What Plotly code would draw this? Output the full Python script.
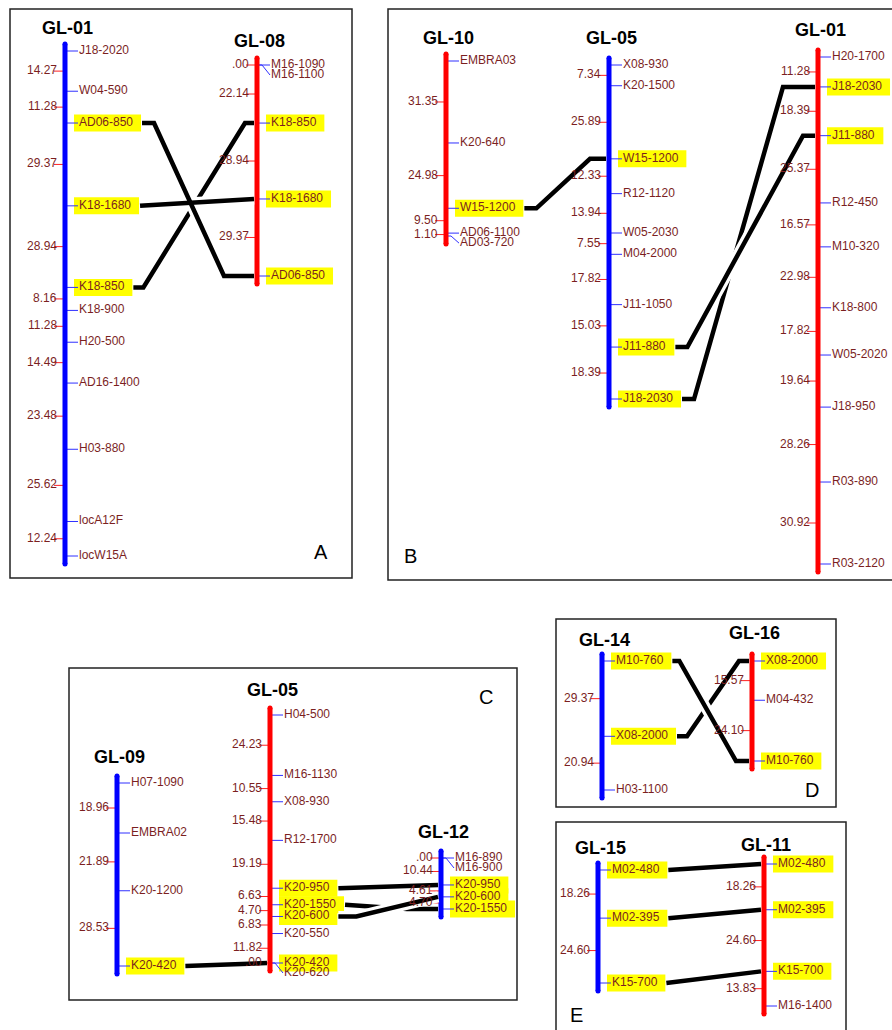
import plotly.graph_objects as go

# ---------------- data ----------------
A_GL01_markers = ["J18-2020", "W04-590", "AD06-850", "K18-1680", "K18-850", "K18-900",
                  "H20-500", "AD16-1400", "H03-880", "locA12F", "locW15A"]
A_GL01_dist = [14.27, 11.28, 29.37, 28.94, 8.16, 11.28, 14.49, 23.48, 25.62, 12.24]
A_GL08_markers = ["M16-1090", "M16-1100", "K18-850", "K18-1680", "AD06-850"]
A_GL08_dist = [0.00, 22.14, 28.94, 29.37]

B_GL10_markers = ["EMBRA03", "K20-640", "W15-1200", "AD06-1100", "AD03-720"]
B_GL10_dist = [31.35, 24.98, 9.50, 1.10]
B_GL05_markers = ["X08-930", "K20-1500", "W15-1200", "R12-1120", "W05-2030", "M04-2000",
                  "J11-1050", "J11-880", "J18-2030"]
B_GL05_dist = [7.34, 25.89, 12.33, 13.94, 7.55, 17.82, 15.03, 18.39]
B_GL01_markers = ["H20-1700", "J18-2030", "J11-880", "R12-450", "M10-320", "K18-800",
                  "W05-2020", "J18-950", "R03-890", "R03-2120"]
B_GL01_dist = [11.28, 18.39, 25.37, 16.57, 22.98, 17.82, 19.64, 28.26, 30.92]

C_GL09_markers = ["H07-1090", "EMBRA02", "K20-1200", "K20-420"]
C_GL09_dist = [18.96, 21.89, 28.53]
C_GL05_markers = ["H04-500", "M16-1130", "X08-930", "R12-1700", "K20-950", "K20-1550",
                  "K20-600", "K20-550", "K20-420", "K20-620"]
C_GL05_dist = [24.23, 10.55, 15.48, 19.19, 6.63, 4.70, 6.83, 11.82, 0.00]
C_GL12_markers = ["M16-890", "M16-900", "K20-950", "K20-600", "K20-1550"]
C_GL12_dist = [0.00, 10.44, 4.61, 4.70]

D_GL14_markers = ["M10-760", "X08-2000", "H03-1100"]
D_GL14_dist = [29.37, 20.94]
D_GL16_markers = ["X08-2000", "M04-432", "M10-760"]
D_GL16_dist = [15.57, 24.10]

E_GL15_markers = ["M02-480", "M02-395", "K15-700"]
E_GL15_dist = [18.26, 24.60]
E_GL11_markers = ["M02-480", "M02-395", "K15-700", "M16-1400"]
E_GL11_dist = [18.26, 24.60, 13.83]

# links: (left chromosome, marker, right chromosome, marker, layer)
links = [
    ("A1", "K18-850", "A2", "K18-850", 0),
    ("A1", "AD06-850", "A2", "AD06-850", 1),
    ("A1", "K18-1680", "A2", "K18-1680", 1),
    ("B1", "W15-1200", "B2", "W15-1200", 0),
    ("B2", "J18-2030", "B3", "J18-2030", 0),
    ("B2", "J11-880", "B3", "J11-880", 1),
    ("C1", "K20-420", "C2", "K20-420", 0),
    ("C2", "K20-950", "C3", "K20-950", 0),
    ("C2", "K20-1550", "C3", "K20-1550", 0),
    ("C2", "K20-600", "C3", "K20-600", 1),
    ("D1", "X08-2000", "D2", "X08-2000", 0),
    ("D1", "M10-760", "D2", "M10-760", 1),
    ("E1", "M02-480", "E2", "M02-480", 0),
    ("E1", "M02-395", "E2", "M02-395", 0),
    ("E1", "K15-700", "E2", "K15-700", 0),
]

# ---------------- layout / style ----------------
W, H = 892, 1030
BLUE, RED = "#0000ff", "#ff0000"
chrom = {
    "A1": dict(name="GL-01", m=A_GL01_markers, d=A_GL01_dist, c=BLUE, x=65, y0=51, y1=556, ty=28),
    "A2": dict(name="GL-08", m=A_GL08_markers, d=A_GL08_dist, c=RED, x=257, y0=65, y1=276, ty=41),
    "B1": dict(name="GL-10", m=B_GL10_markers, d=B_GL10_dist, c=RED, x=446, y0=61, y1=236, ty=38),
    "B2": dict(name="GL-05", m=B_GL05_markers, d=B_GL05_dist, c=BLUE, x=609, y0=65, y1=399, ty=38),
    "B3": dict(name="GL-01", m=B_GL01_markers, d=B_GL01_dist, c=RED, x=818, y0=57, y1=564, ty=30),
    "C1": dict(name="GL-09", m=C_GL09_markers, d=C_GL09_dist, c=BLUE, x=117, y0=783, y1=966, ty=757),
    "C2": dict(name="GL-05", m=C_GL05_markers, d=C_GL05_dist, c=RED, x=270, y0=715, y1=963, ty=690),
    "C3": dict(name="GL-12", m=C_GL12_markers, d=C_GL12_dist, c=BLUE, x=441, y0=858, y1=909, ty=832),
    "D1": dict(name="GL-14", m=D_GL14_markers, d=D_GL14_dist, c=BLUE, x=602, y0=661, y1=790, ty=640),
    "D2": dict(name="GL-16", m=D_GL16_markers, d=D_GL16_dist, c=RED, x=752, y0=661, y1=761, ty=633),
    "E1": dict(name="GL-15", m=E_GL15_markers, d=E_GL15_dist, c=BLUE, x=598, y0=870, y1=983, ty=848),
    "E2": dict(name="GL-11", m=E_GL11_markers, d=E_GL11_dist, c=RED, x=764, y0=864, y1=1006, ty=845),
}
# link bend stubs (left, right)
stubs = [(10, 9), (12, 30), (0, 0), (12, 16), (12, 32), (12, 12), (0, 0), (0, 0),
         (0, 31), (18, 0), (10, 10), (7, 13), (0, 0), (0, 0), (0, 0)]
frames = [(10, 9, 352, 578), (388, 9, 896, 580), (69, 668, 517, 1000),
          (556, 619, 836, 807), (556, 822, 846, 1034)]
panel_letters = [("A", 321, 552), ("B", 410, 556), ("C", 486, 697), ("D", 812, 790), ("E", 576, 1015)]

TXT = "#7b1f1f"
FONT = "Liberation Sans, Arial, sans-serif"
FS = 12
GAP = 10

AW = {'A': 667, 'B': 667, 'C': 722, 'D': 722, 'E': 667, 'H': 722, 'J': 500, 'K': 667, 'M': 833,
      'R': 722, 'W': 944, 'X': 667, 'l': 222, 'o': 556, 'c': 500, '-': 333}


def tw(s):
    return sum(AW.get(ch, 556) for ch in s) * FS / 1000.0


linked = set()
for a, ma, b, mb, _ in links:
    linked.add((a, ma))
    linked.add((b, mb))

# compute positions from cumulative distances
for k, c in chrom.items():
    cum = [0.0]
    for v in c["d"]:
        cum.append(cum[-1] + v)
    sc = (c["y1"] - c["y0"]) / cum[-1]
    ys = [c["y0"] + v * sc for v in cum]
    ly = []
    for i, y in enumerate(ys):
        ly.append(y if i == 0 else max(y, ly[-1] + GAP))
    c["ys"], c["ly"] = ys, ly

fig = go.Figure()
shapes, annos = [], []

for (x0, y0, x1, y1) in frames:
    shapes.append(dict(type="rect", xref="x", yref="y", x0=x0, y0=y0, x1=x1, y1=y1,
                       line=dict(color="#222222", width=1.5), layer="below"))

cx = {BLUE: ([], []), RED: ([], [])}
capx = {BLUE: ([], []), RED: ([], [])}
mtx, mty, dtx, dty = [], [], [], []
box_right = {}
for k, c in chrom.items():
    x, ys, ly = c["x"], c["ys"], c["ly"]
    top, bot = ys[0] - 7, ys[-1] + 8
    cx[c["c"]][0].extend([x, x, None]); cx[c["c"]][1].extend([top, bot, None])
    capx[c["c"]][0].extend([x, x]); capx[c["c"]][1].extend([top, bot])
    annos.append(dict(x=x + 2, y=c["ty"], text="<b>%s</b>" % c["name"], showarrow=False,
                      font=dict(size=18, color="black", family=FONT), xanchor="center", yanchor="middle"))
    for i, name in enumerate(c["m"]):
        y, l = ys[i], ly[i]
        if abs(l - y) < 0.5:
            mtx.extend([x, x + 13, None]); mty.extend([y, y, None])
        else:
            mtx.extend([x, x + 5, x + 13, None]); mty.extend([y, y, l, None])
        w = tw(name)
        if (k, name) in linked:
            shapes.append(dict(type="rect", xref="x", yref="y", x0=x + 9, x1=x + 15 + w + 7,
                               y0=l - 8.5, y1=l + 8.5, fillcolor="#ffff00", line=dict(width=0),
                               layer="below"))
            box_right[(k, name)] = (x + 15 + w + 7, l)
        annos.append(dict(x=x + 12, y=l - 1, text=name, showarrow=False, xanchor="left",
                          yanchor="middle", font=dict(size=FS, color=TXT, family=FONT)))
    for i, v in enumerate(c["d"]):
        ym = (ys[i] + ys[i + 1]) / 2
        dtx.extend([x - 11, x, None]); dty.extend([ym, ym, None])
        s = "%.2f" % v
        if s.startswith("0"):
            s = s[1:]
        annos.append(dict(x=x - 6, y=ym - 1, text=s, showarrow=False, xanchor="right",
                          yanchor="middle", font=dict(size=FS, color=TXT, family=FONT)))

fig.add_trace(go.Scatter(x=dtx, y=dty, mode="lines", line=dict(color="#ff2020", width=1),
                         hoverinfo="skip"))
fig.add_trace(go.Scatter(x=mtx, y=mty, mode="lines", line=dict(color="#3030ff", width=1),
                         hoverinfo="skip"))
for col in (BLUE, RED):
    fig.add_trace(go.Scatter(x=cx[col][0], y=cx[col][1], mode="lines",
                             line=dict(color=col, width=5), hoverinfo="skip"))
    fig.add_trace(go.Scatter(x=capx[col][0], y=capx[col][1], mode="markers",
                             marker=dict(color=col, size=5, line=dict(width=0)), hoverinfo="skip"))


def link_path(i):
    a, ma, b, mb, _ = links[i]
    xa, ya = box_right[(a, ma)]
    xa += 1
    cb = chrom[b]
    yb = cb["ys"][cb["m"].index(mb)]
    xb = cb["x"] - 3
    s1, s2 = stubs[i]
    return [xa, xa + s1, xb - s2, xb], [ya, ya, yb, yb]


for layer in (0, 1):
    idx = [i for i, L in enumerate(links) if L[4] == layer]
    if layer == 1:
        for i in idx:
            px, py = link_path(i)
            fig.add_trace(go.Scatter(x=px, y=py, mode="lines", line=dict(color="white", width=11),
                                     hoverinfo="skip"))
    for i in idx:
        px, py = link_path(i)
        fig.add_trace(go.Scatter(x=px, y=py, mode="lines", line=dict(color="black", width=4.5),
                                 hoverinfo="skip"))

for (t, x, y) in panel_letters:
    annos.append(dict(x=x, y=y, text=t, showarrow=False, xanchor="center", yanchor="middle",
                      font=dict(size=20, color="black", family=FONT)))

fig.update_layout(
    width=W, height=H, margin=dict(l=0, r=0, t=0, b=0), showlegend=False,
    paper_bgcolor="white", plot_bgcolor="white",
    xaxis=dict(range=[0, W], visible=False, fixedrange=True),
    yaxis=dict(range=[H, 0], visible=False, fixedrange=True),
    shapes=shapes, annotations=annos,
)
fig.write_html("out.html", config={"displayModeBar": False},
               post_script="document.body.style.margin='0';document.body.style.overflow='hidden';")
